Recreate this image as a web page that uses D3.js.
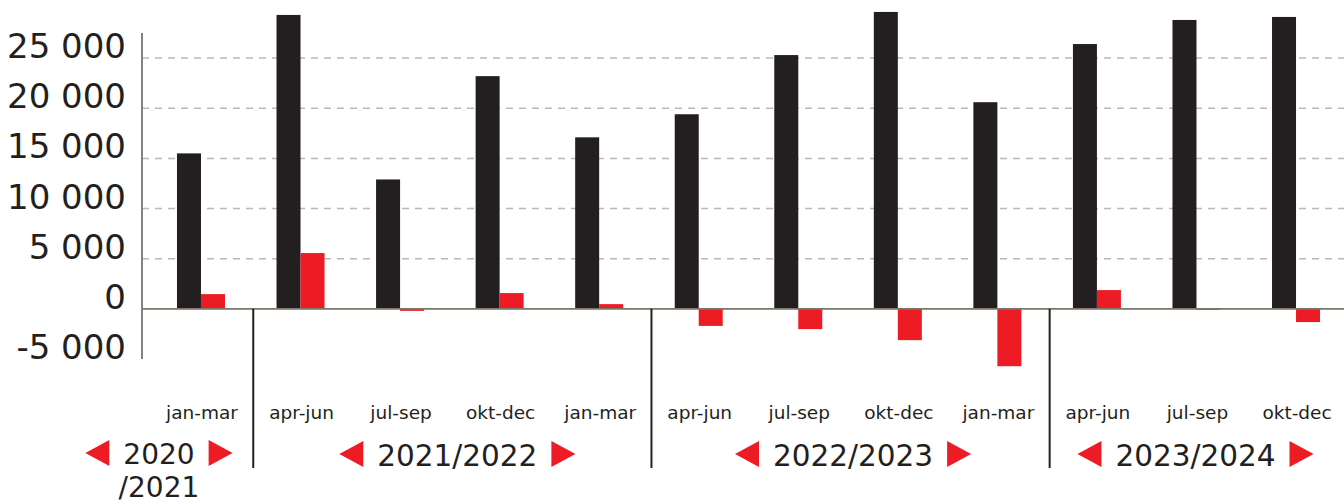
<!DOCTYPE html>
<html>
<head>
<meta charset="utf-8">
<script src="https://cdn.jsdelivr.net/npm/d3@7"></script>
<style>
  html, body { margin: 0; padding: 0; background: #ffffff; }
  svg { display: block; }
  text { font-family: "DejaVu Sans", "Liberation Sans", sans-serif; fill: #231f20; }
</style>
</head>
<body>
<svg id="chart" width="1344" height="504"></svg>
<script>
// ---- data ----
const quarters = ["jan-mar", "apr-jun", "jul-sep", "okt-dec",
                  "jan-mar", "apr-jun", "jul-sep", "okt-dec",
                  "jan-mar", "apr-jun", "jul-sep", "okt-dec"];
const blackValues = [15500, 29300, 12900, 23200, 17100, 19400, 25300, 29600, 20600, 26400, 28800, 29100];
const redValues   = [1470, 5560, -200, 1570, 470, -1700, -2020, -3120, -5720, 1870, -50, -1320];
const yTickValues = [-5000, 0, 5000, 10000, 15000, 20000, 25000];
const yTickLabels = ["-5 000", "0", "5 000", "10 000", "15 000", "20 000", "25 000"];
const yearLabels  = ["2020/2021", "2021/2022", "2022/2023", "2023/2024"];
const yearFirstQuarter = [0, 1, 5, 9];
const yearLastQuarter  = [0, 4, 8, 11];

// ---- layout ----
const W = 1344, H = 504;
const axisX = 142;
const barW = 24;
const yearDx = [-42, 7.5, 5, -1];
const COL_BLACK = "#231f20", COL_RED = "#ed1c24", COL_AXIS = "#7b7668", COL_GRID = "#b9b9b9";

const svg = d3.select("#chart");
const idx = d3.range(quarters.length);

const x = d3.scaleBand().domain(idx).range([151.2, 1345.8]).paddingInner(0).paddingOuter(0);
const y = d3.scaleLinear().domain([-5000, 27500]).range([359, 33]);
const cx = i => x(i) + x.bandwidth() / 2;

// gridlines
svg.append("g").selectAll("line")
  .data(yTickValues.filter(v => v > 0))
  .join("line")
  .attr("x1", axisX).attr("x2", W)
  .attr("y1", d => y(d)).attr("y2", d => y(d))
  .attr("stroke", COL_GRID).attr("stroke-width", 1.5)
  .attr("stroke-dasharray", "7,6");

// y labels
svg.append("g").selectAll("text")
  .data(yTickValues)
  .join("text")
  .attr("x", 126)
  .attr("y", d => y(d))
  .attr("text-anchor", "end")
  .attr("font-size", 34)
  .text((d, i) => yTickLabels[i]);

// bars
svg.append("g").selectAll("rect")
  .data(idx)
  .join("rect")
  .attr("x", i => cx(i) - barW)
  .attr("width", barW)
  .attr("y", i => y(Math.max(0, blackValues[i])))
  .attr("height", i => Math.abs(y(blackValues[i]) - y(0)))
  .attr("fill", COL_BLACK);

svg.append("g").selectAll("rect")
  .data(idx)
  .join("rect")
  .attr("x", i => cx(i))
  .attr("width", barW)
  .attr("y", i => y(Math.max(0, redValues[i])))
  .attr("height", i => Math.max(1, Math.abs(y(redValues[i]) - y(0))))
  .attr("fill", COL_RED);

// axes lines
svg.append("line")
  .attr("x1", axisX).attr("x2", W)
  .attr("y1", y(0)).attr("y2", y(0))
  .attr("stroke", COL_AXIS).attr("stroke-width", 1.8);
svg.append("line")
  .attr("x1", axisX).attr("x2", axisX)
  .attr("y1", y(27500)).attr("y2", y(-5000))
  .attr("stroke", COL_AXIS).attr("stroke-width", 1.8);

// separators between years
svg.append("g").selectAll("line")
  .data(yearFirstQuarter.slice(1))
  .join("line")
  .attr("x1", d => x(d) + 2.5).attr("x2", d => x(d) + 2.5)
  .attr("y1", y(0)).attr("y2", 468)
  .attr("stroke", COL_BLACK).attr("stroke-width", 2);

// quarter labels
svg.append("g").selectAll("text")
  .data(idx)
  .join("text")
  .attr("x", i => cx(i) + 1)
  .attr("y", 419)
  .attr("text-anchor", "middle")
  .attr("font-size", 18.5)
  .text(i => quarters[i]);

// year labels with triangles
const yearG = svg.append("g");
yearLabels.forEach((lab, k) => {
  const f = yearFirstQuarter[k], l = yearLastQuarter[k];
  const center = (cx(f) + cx(l)) / 2 + yearDx[k];
  const single = f === l;
  const lines = single ? [lab.slice(0, lab.indexOf("/")), lab.slice(lab.indexOf("/"))] : [lab];
  const baseY = single ? 464 : 466;
  const t = yearG.append("text")
    .attr("x", center).attr("y", baseY)
    .attr("text-anchor", "middle")
    .attr("font-size", single ? 28 : 29.5);
  lines.forEach((ln, j) => {
    t.append("tspan").attr("x", center).attr("dy", j === 0 ? 0 : 33).text(ln);
  });
  const firstW = t.select("tspan").node().getComputedTextLength();
  const left = center - firstW / 2, right = center + firstW / 2;
  const gap = 14, tw = 24, th = 26, tc = single ? 453 : 454;
  yearG.append("path")
    .attr("d", d3.line()([[left - gap, tc - th / 2], [left - gap, tc + th / 2], [left - gap - tw, tc]]) + "Z")
    .attr("fill", COL_RED);
  yearG.append("path")
    .attr("d", d3.line()([[right + gap, tc - th / 2], [right + gap, tc + th / 2], [right + gap + tw, tc]]) + "Z")
    .attr("fill", COL_RED);
});
</script>
</body>
</html>
